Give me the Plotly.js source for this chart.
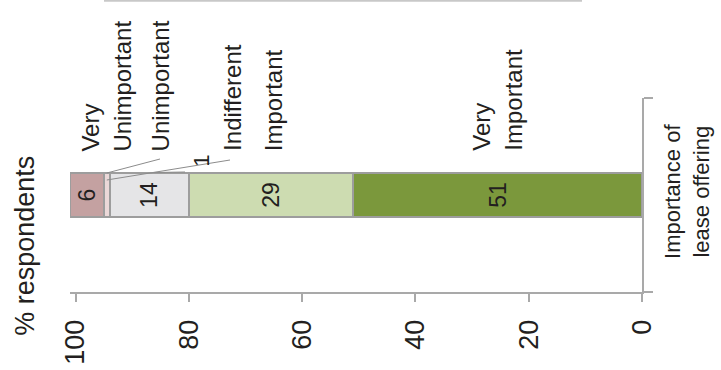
<!DOCTYPE html>
<html>
<head>
<meta charset="utf-8">
<script src="https://cdn.plot.ly/plotly-3.0.1.min.js"></script>
<style>
  html, body { margin: 0; padding: 0; background: #ffffff; }
  #chart { width: 721px; height: 370px; }
</style>
</head>
<body>
<div id="chart"></div>
<script>
// Survey result: importance of the lease offering (% of respondents)
const categories = ['Importance of<br>lease offering'];
// Stacked from 0 (right) outwards
const seriesNames = ['Very Important', 'Important', 'Indifferent', 'Unimportant', 'Very Unimportant'];
const seriesLabels = ['Very<br>Important', 'Important', 'Indifferent', 'Unimportant', 'Very<br>Unimportant'];
const seriesValues = [51, 29, 14, 1, 6];
const seriesColors = ['#7b983c', '#cddcb1', '#e5e5e7', '#ebd8d8', '#c4a1a1'];
const valueTicks = [0, 20, 40, 60, 80, 100];
const valueTickText = ['0', '20', '40', '60', '80', '100'];
const axisTitle = '% respondents';

const FONT = 'Liberation Sans, Arial, Helvetica, sans-serif';
const INK = '#231f20';
const GRID = '#a9a9a9';

const total = seriesValues.reduce((a, b) => a + b, 0);

// running start of every stacked segment
const starts = [];
let acc = 0;
seriesValues.forEach(v => { starts.push(acc); acc += v; });
const centers = seriesValues.map((v, i) => starts[i] + v / 2);

const traces = seriesValues.map((v, i) => ({
  type: 'bar',
  orientation: 'h',
  y: categories,
  x: [v],
  name: seriesNames[i],
  marker: { color: seriesColors[i], line: { color: '#9d9d9d', width: 2 } },
  text: [String(v)],
  textposition: v < 3 ? 'none' : 'inside',
  insidetextanchor: 'middle',
  constraintext: 'none',
  textangle: -90,
  textfont: { family: FONT, size: 23, color: INK },
  hoverinfo: 'none'
}));

// horizontal nudges of the series-name labels relative to their segment centre (px)
const labelShift = [0, 2, 83, 54, 19];
const labelY = 0.716; // just above the bar, in plot-height fractions

const annotations = seriesLabels.map((t, i) => ({
  xref: 'x', yref: 'paper',
  x: centers[i], y: labelY,
  xshift: labelShift[i],
  text: t,
  showarrow: false,
  textangle: -90,
  align: 'left',
  xanchor: 'center', yanchor: 'bottom',
  font: { family: FONT, size: 24, color: INK }
}));

// value of the thin segment, set outside the bar
const thin = seriesValues.findIndex(v => v < 3);
annotations.push({
  xref: 'x', yref: 'paper',
  x: centers[thin], y: 0.675,
  xshift: 94,
  text: String(seriesValues[thin]),
  showarrow: false,
  textangle: -90,
  xanchor: 'center', yanchor: 'middle',
  font: { family: FONT, size: 22, color: INK }
});

// axis title on the left
annotations.push({
  xref: 'paper', yref: 'paper',
  x: -0.079, y: 0.237,
  text: axisTitle,
  showarrow: false,
  textangle: -90,
  xanchor: 'center', yanchor: 'middle',
  font: { family: FONT, size: 27, color: INK }
});

// leader lines from the labels to the thin segment
const W = 572, H = 194, L = 70, T = 98;
const px = v => (total - v) / total;          // data -> paper x
const fx = p => (p - L) / W;                   // pixel -> paper x
const fy = p => (T + H - p) / H;               // pixel -> paper y
const thinX = px(centers[thin]);
const leader = (x0, y0, x1, y1) => ({
  type: 'line', xref: 'paper', yref: 'paper',
  x0, y0, x1, y1,
  line: { color: '#8c8c8c', width: 1 }
});
const shapes = [
  leader(fx(160), fy(159), thinX, fy(173)),
  leader(fx(230), fy(160), thinX, fy(180)),
  leader(fx(153), fy(172.5), fx(185), fy(172)),
  // chart frame edge at the very top
  { type: 'line', xref: 'paper', yref: 'paper',
    x0: fx(104), x1: fx(582), y0: fy(0.8), y1: fy(0.8),
    line: { color: '#c8c8c8', width: 2 } }
];

const layout = {
  width: 721, height: 370,
  margin: { l: L, r: 721 - L - W, t: T, b: 370 - T - H, pad: 0 },
  paper_bgcolor: '#ffffff',
  plot_bgcolor: '#ffffff',
  barmode: 'stack',
  bargap: 0.773,
  showlegend: false,
  xaxis: {
    range: [total, 0],
    tickvals: valueTicks,
    ticktext: valueTickText,
    tickangle: -90,
    ticks: 'outside', ticklen: 8, tickwidth: 2, tickcolor: GRID,
    showline: true, linecolor: GRID, linewidth: 2,
    showgrid: false, zeroline: false,
    ticklabelstandoff: 7,
    tickfont: { family: FONT, size: 27, color: INK }
  },
  yaxis: {
    type: 'category',
    side: 'right',
    tickangle: -90,
    ticks: 'outside', tickson: 'boundaries', ticklen: 9, tickwidth: 2, tickcolor: GRID,
    showline: true, linecolor: GRID, linewidth: 2,
    showgrid: false, zeroline: false,
    ticklabelstandoff: 10,
    tickfont: { family: FONT, size: 22, color: INK }
  },
  annotations,
  shapes
};

Plotly.newPlot('chart', traces, layout, { staticPlot: true, displayModeBar: false });
</script>
</body>
</html>
